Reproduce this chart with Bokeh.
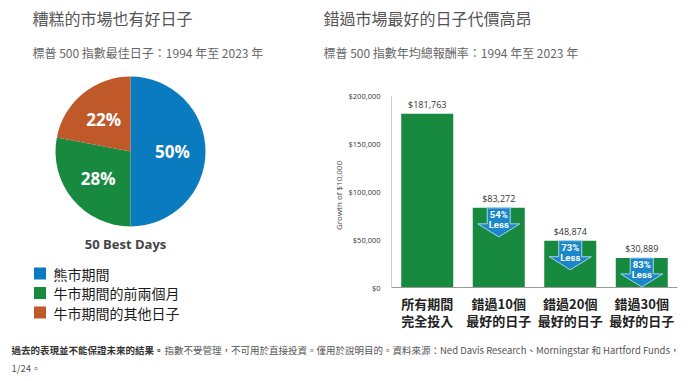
import math
from bokeh.plotting import figure
from bokeh.layouts import column, row
from bokeh.models import Range1d, FixedTicker, NumeralTickFormatter
from bokeh.core.properties import value
from bokeh.embed import file_html
from bokeh.resources import INLINE

# ---------------- data ----------------
left_title = "糟糕的市場也有好日子"
left_subtitle = "標普 500 指數最佳日子：1994 年至 2023 年"
right_title = "錯過市場最好的日子代價高昂"
right_subtitle = "標普 500 指數年均總報酬率：1994 年至 2023 年"

pie_labels = ["熊市期間", "牛市期間的前兩個月", "牛市期間的其他日子"]
pie_values = [50, 28, 22]
pie_colors = ["#0b7bc0", "#178a40", "#c0592a"]
pie_caption = "50 Best Days"

bar_categories = ["所有期間\n完全投入", "錯過10個\n最好的日子", "錯過20個\n最好的日子", "錯過30個\n最好的日子"]
bar_values = [181763, 83272, 48874, 30889]
bar_color = "#178a40"
y_ticks = [0, 50000, 100000, 150000, 200000]
y_axis_title = "Growth of $10,000"

foot_bold = "過去的表現並不能保證未來的結果。"
foot_rest = "指數不受管理，不可用於直接投資。僅用於說明目的。資料來源：Ned Davis Research、Morningstar 和 Hartford Funds，"
foot_line2 = "1/24。"

CJK = value("Noto Sans CJK TC")
LAT = value("Open Sans")

# ---------------- layout constants (page pixels) ----------------
W, H = 698, 379
TOP_H = 60          # title strip
ROW_BOTTOM = 330    # bottom of middle row
SPLIT = 318         # pie / bar split
BAR_L, BAR_R = 391, 677     # bar frame left / right
Y0_PX, YMAX_PX = 287, 95.7  # pixel rows of $0 and $200,000


def bare(fig):
    fig.xgrid.visible = False
    fig.ygrid.visible = False
    fig.outline_line_color = None
    fig.background_fill_color = "white"
    fig.border_fill_color = "white"
    return fig


def plain(width, height, x0, x1, y0, y1):
    return bare(figure(width=width, height=height, x_range=Range1d(x0, x1), y_range=Range1d(-y1, -y0),
                       output_backend="svg", toolbar_location=None, min_border=0,
                       x_axis_location=None, y_axis_location=None))


# ---------------- titles ----------------
top = plain(W, TOP_H, 0, W, 0, TOP_H)
top.text(x=[32, 323], y=[-17, -17], text=[left_title, right_title], text_font=CJK,
         text_font_size="16px", text_color="#555555", text_baseline="middle", text_align="left")
top.text(x=[32, 323], y=[-52, -52], text=[left_subtitle, right_subtitle], text_font=CJK,
         text_font_size="12px", text_color="#666666", text_baseline="middle", text_align="left")

# ---------------- pie ----------------
pie = plain(SPLIT, ROW_BOTTOM - TOP_H, 0, SPLIT, TOP_H, ROW_BOTTOM)
cx, cy, r = 130, -151, 75
total = sum(pie_values)
starts, ends, lx, ly, ltxt = [], [], [], [], []
a = math.pi / 2
for v in pie_values:
    sweep = 2 * math.pi * v / total
    starts.append(a)
    ends.append(a - sweep)
    mid = a - sweep / 2
    lx.append(cx + 42 * math.cos(mid))
    ly.append(cy + 42 * math.sin(mid))
    ltxt.append(f"{v}%")
    a -= sweep
pie.wedge(x=cx, y=cy, radius=r, start_angle=starts, end_angle=ends, direction="clock",
          fill_color=pie_colors, line_color=None)
pie.text(x=lx, y=ly, text=ltxt, text_font=LAT, text_font_style="bold", text_font_size="17px",
         text_color="white", text_align="center", text_baseline="middle")
pie.text(x=[125], y=[-243], text=[pie_caption], text_font=LAT, text_font_style="bold",
         text_font_size="13px", text_color="#444444", text_align="center", text_baseline="middle")
leg_y = [-(273 + 19.5 * i) for i in range(len(pie_labels))]
pie.scatter(x=[39.5] * len(pie_labels), y=leg_y, marker="square", size=12,
            fill_color=pie_colors, line_color=None)
pie.text(x=[53] * len(pie_labels), y=leg_y, text=pie_labels, text_font=CJK,
         text_font_size="14px", text_color="#1a1a1a", text_align="left", text_baseline="middle")

# ---------------- bar chart ----------------
ymax = y_ticks[-1]
py = ymax / (Y0_PX - YMAX_PX)           # data units per pixel (vertical)
n = len(bar_values)
px = n / (BAR_R - BAR_L)                 # data units per pixel (horizontal)
y_start = -(ROW_BOTTOM - Y0_PX) * py
y_end = ymax + (YMAX_PX - TOP_H) * py

bar = bare(figure(width=W - SPLIT, height=ROW_BOTTOM - TOP_H,
                  x_range=Range1d(0, n), y_range=Range1d(y_start, y_end),
                  output_backend="svg", toolbar_location=None, x_axis_location=None,
                  min_border_left=BAR_L - SPLIT, min_border_right=W - BAR_R,
                  min_border_top=0, min_border_bottom=0))
xs = [i + 0.5 for i in range(n)]
bar.vbar(x=xs, top=bar_values, width=52 * px, fill_color=bar_color, line_color=None)
# axis lines
bar.segment(x0=[0, 0], y0=[0, 0], x1=[0, n], y1=[ymax, 0], line_color="#9a9a9a", line_width=1)
bar.text(x=xs, y=[v + 2.5 * py for v in bar_values], text=[f"${v:,}" for v in bar_values],
         text_font=LAT, text_font_size="9px", text_color="#333333",
         text_align="center", text_baseline="bottom")

# arrows
shape = [(-11.5, 0), (11.5, 0), (11.5, 16), (21, 16), (0, 29), (-21, 16), (-11.5, 16)]
axs, ays, tx1, ty1, tt1, ty2 = [], [], [], [], [], []
for i in range(1, n):
    xc, top_v = xs[i], bar_values[i]
    axs.append([xc + sx * px for sx, sy in shape])
    ays.append([top_v - sy * py for sx, sy in shape])
    pct = round((1 - bar_values[i] / bar_values[0]) * 100)
    tx1.append(xc)
    ty1.append(top_v - 7 * py)
    tt1.append(f"{pct}%")
    ty2.append(top_v - 17 * py)
bar.patches(xs=axs, ys=ays, fill_color="#1b86c8", line_color="#a6d6f0", line_width=1)
bar.text(x=tx1, y=ty1, text=tt1, text_font=value("Roboto"), text_font_style="bold",
         text_font_size="9.5px", text_color="white", text_align="center", text_baseline="middle")
bar.text(x=tx1, y=ty2, text=["Less"] * len(tx1), text_font=value("Roboto"), text_font_style="bold",
         text_font_size="9.5px", text_color="white", text_align="center", text_baseline="middle")

# category labels under the baseline
line1 = [c.split("\n")[0] for c in bar_categories]
line2 = [c.split("\n")[1] for c in bar_categories]
bar.text(x=xs, y=[-15.5 * py] * n, text=line1, text_font=CJK, text_font_style="bold",
         text_font_size="13px", text_color="#222222", text_align="center", text_baseline="middle")
bar.text(x=xs, y=[-32.5 * py] * n, text=line2, text_font=CJK, text_font_style="bold",
         text_font_size="13px", text_color="#222222", text_align="center", text_baseline="middle")

yax = bar.yaxis[0]
yax.ticker = FixedTicker(ticks=y_ticks)
yax.formatter = NumeralTickFormatter(format="$0,0")
yax.major_tick_line_color = None
yax.minor_tick_line_color = None
yax.axis_line_color = None
yax.major_label_text_font = "Open Sans"
yax.major_label_text_font_size = "7.5px"
yax.major_label_text_color = "#333333"
yax.major_label_standoff = 5
yax.axis_label = y_axis_title
yax.axis_label_text_font = "Open Sans"
yax.axis_label_text_font_size = "8px"
yax.axis_label_text_font_style = "normal"
yax.axis_label_text_color = "#444444"
yax.axis_label_standoff = 2

# ---------------- footnote ----------------
foot = plain(W, H - ROW_BOTTOM, 0, W, ROW_BOTTOM, H)
foot.text(x=[11], y=[-349], text=[foot_bold], text_font=CJK, text_font_style="bold",
          text_font_size="9.5px", text_color="#333333", text_baseline="middle", text_align="left")
foot.text(x=[164, 11], y=[-349, -367], text=[foot_rest, foot_line2], text_font=CJK,
          text_font_size="9.5px", text_color="#555555", text_baseline="middle", text_align="left")

p = column(top, row(pie, bar), foot)
open("out.html", "w").write(file_html(p, INLINE))
